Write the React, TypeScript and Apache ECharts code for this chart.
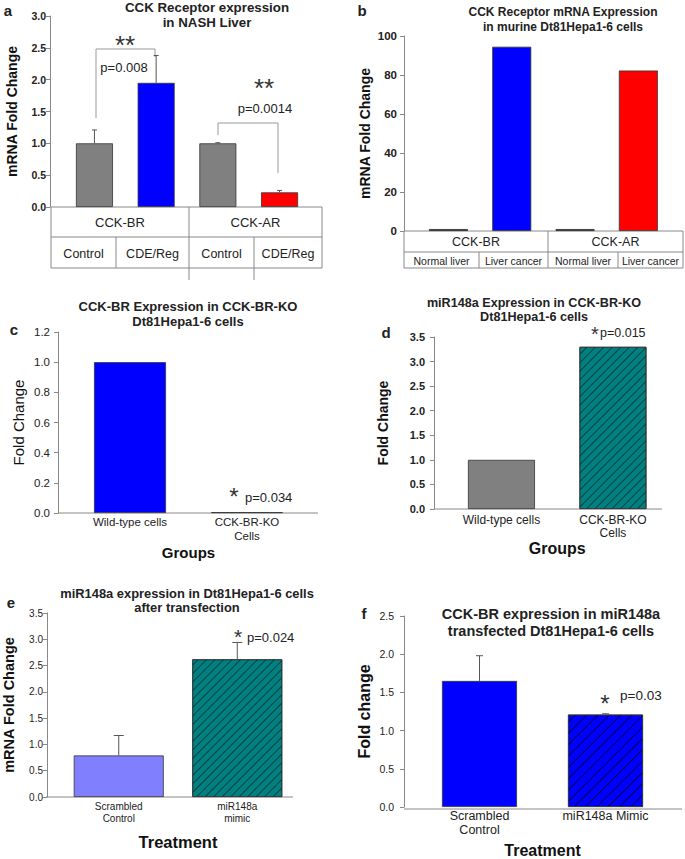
import React, { useEffect, useRef } from "react";
import * as echarts from "echarts";

const FONT = "'Liberation Sans', Arial, Helvetica, sans-serif";

// ---------- Panel a ----------
const aTitle = "CCK Receptor expression\nin NASH Liver";
const aGroupLabels = ["CCK-BR", "CCK-AR"];
const aSubLabels = ["Control", "CDE/Reg", "Control", "CDE/Reg"];
const aKeys = ["BR Control", "BR CDE/Reg", "AR Control", "AR CDE/Reg"];
const aValues = [1.0, 1.95, 1.0, 0.23];
const aErrTop = [1.21, 2.38, 1.01, 0.26];
const aColors = ["#808080", "#0000ff", "#808080", "#ff0000"];
const aPValues = ["p=0.008", "p=0.0014"];

// ---------- Panel b ----------
const bTitle = "CCK Receptor mRNA Expression\nin murine Dt81Hepa1-6 cells";
const bGroupLabels = ["CCK-BR", "CCK-AR"];
const bSubLabels = ["Normal liver", "Liver cancer", "Normal liver", "Liver cancer"];
const bKeys = ["BR Normal", "BR Cancer", "AR Normal", "AR Cancer"];
const bValues = [1, 94.5, 1, 82.3];
const bColors = ["#000000", "#0000ff", "#000000", "#ff0000"];

// ---------- Panel c ----------
const cTitle = "CCK-BR Expression in CCK-BR-KO\nDt81Hepa1-6 cells";
const cCategories = ["Wild-type cells", "CCK-BR-KO\nCells"];
const cValues = [1.0, 0.005];
const cColors = ["#0000ff", "#808080"];
const cPValue = "p=0.034";

// ---------- Panel d ----------
const dTitle = "miR148a Expression in CCK-BR-KO\nDt81Hepa1-6 cells";
const dCategories = ["Wild-type cells", "CCK-BR-KO\nCells"];
const dValues = [1.0, 3.3];
const dColors = ["#808080", "#008080"];
const dPValue = "p=0.015";

// ---------- Panel e ----------
const eTitle = "miR148a expression in Dt81Hepa1-6 cells\nafter transfection";
const eCategories = ["Scrambled\nControl", "miR148a\nmimic"];
const eValues = [0.79, 2.62];
const eErrTop = [1.17, 2.94];
const eColors = ["#8080ff", "#008080"];
const ePValue = "p=0.024";

// ---------- Panel f ----------
const fTitle = "CCK-BR expression in miR148a\ntransfected Dt81Hepa1-6 cells";
const fCategories = ["Scrambled\nControl", "miR148a Mimic"];
const fValues = [1.65, 1.21];
const fErrTop = [1.98, 1.22];
const fColors = ["#0000ff", "#0000ff"];
const fPValue = "p=0.03";

// ---------- layout (pixels) ----------
type Geo = { axisX: number; axisEnd: number; top: number; bottom: number; bandL: number; bandR: number };
const GEO: Geo[] = [
  { axisX: 50, axisEnd: 322, top: 16, bottom: 207, bandL: 63.6, bandR: 310.4 },
  { axisX: 404, axisEnd: 683, top: 36, bottom: 231, bandL: 416.8, bandR: 670 },
  { axisX: 58, axisEnd: 318, top: 332, bottom: 513, bandL: 71.5, bandR: 305.5 },
  { axisX: 434, axisEnd: 662, top: 337, bottom: 509, bandL: 445.7, bandR: 668.7 },
  { axisX: 46, axisEnd: 293, top: 613, bottom: 797, bandL: 58.5, bandR: 296.5 },
  { axisX: 404, axisEnd: 682, top: 616, bottom: 809, bandL: 416.5, bandR: 668.5 },
];

const hatch = (color: string, gap: number) => ({
  symbol: "rect",
  symbolSize: 1,
  dashArrayX: [1, 0],
  dashArrayY: [1, gap],
  rotation: -Math.PI / 4,
  color,
});

function yAxisCfg(i: number, max: number, interval: number, decimals: number, o: any) {
  const g = GEO[i];
  return {
    type: "value",
    gridIndex: i,
    min: 0,
    max,
    interval,
    offset: g.bandL - g.axisX,
    name: o.name,
    nameLocation: "middle",
    nameRotate: 90,
    nameGap: o.nameGap,
    nameTextStyle: { fontFamily: FONT, fontSize: o.nameSize, fontWeight: o.nameBold ? "bold" : "normal", color: "#111" },
    axisLine: { show: true, lineStyle: { color: "#888", width: 1 } },
    axisTick: { show: true, length: 4, lineStyle: { color: "#888" } },
    splitLine: { show: false },
    axisLabel: {
      formatter: (v: number) => v.toFixed(decimals),
      fontFamily: FONT,
      fontSize: o.labelSize,
      fontWeight: o.labelBold ? "bold" : "normal",
      color: "#222",
      margin: o.margin,
    },
  };
}

function xAxisCfg(i: number, data: string[], o: any) {
  return {
    type: "category",
    gridIndex: i,
    data,
    axisLine: { show: false },
    axisTick: { show: false },
    axisLabel: o
      ? { show: true, interval: 0, fontFamily: FONT, fontSize: o.labelSize, lineHeight: o.lineHeight, color: "#222", margin: o.margin }
      : { show: false },
    name: o ? o.name : "",
    nameLocation: "middle",
    nameGap: o ? o.nameGap : 0,
    nameTextStyle: { fontFamily: FONT, fontSize: o ? o.nameSize : 12, fontWeight: "bold", color: "#111" },
  };
}

function barSeries(i: number, values: number[], colors: string[], width: number, decals?: (any | null)[]) {
  return {
    type: "bar",
    xAxisIndex: i,
    yAxisIndex: i,
    barWidth: width,
    data: values.map((v, k) => ({
      value: v,
      itemStyle: {
        color: colors[k],
        borderColor: "#333",
        borderWidth: 0.8,
        decal: decals && decals[k] ? decals[k] : undefined,
      },
    })),
  };
}

function errSeries(i: number, values: number[], tops: number[], cap: number) {
  return {
    type: "custom",
    xAxisIndex: i,
    yAxisIndex: i,
    z: 5,
    data: values.map((v, k) => [k, v, tops[k]]),
    renderItem: (_p: any, api: any) => {
      const a = api.coord([api.value(0), api.value(1)]);
      const b = api.coord([api.value(0), api.value(2)]);
      const st = { stroke: "#555", lineWidth: 1 };
      return {
        type: "group",
        children: [
          { type: "line", shape: { x1: a[0], y1: a[1], x2: b[0], y2: b[1] }, style: st },
          { type: "line", shape: { x1: b[0] - cap / 2, y1: b[1], x2: b[0] + cap / 2, y2: b[1] }, style: st },
        ],
      };
    },
  };
}

const line = (x1: number, y1: number, x2: number, y2: number, color = "#888") => ({
  type: "line",
  shape: { x1, y1, x2, y2 },
  style: { stroke: color, lineWidth: 1 },
  silent: true,
});

const txt = (x: number, y: number, text: string, size: number, extra: any = {}) => ({
  type: "text",
  x,
  y,
  silent: true,
  style: {
    text,
    fontFamily: FONT,
    fontSize: size,
    fill: "#222",
    align: "center",
    verticalAlign: "middle",
    ...extra,
  },
});

function table(x0: number, x1: number, mid: number, subs: number[], y0: number, y1: number, y2: number,
  groups: string[], subLabels: string[], gSize: number, sSize: number, ext: number) {
  const els: any[] = [
    line(x0, y0, x1, y0),
    line(x0, y1, x1, y1),
    line(x0, y2, x1, y2),
    line(x0, y0, x0, y2),
    line(x1, y0, x1, y2),
    line(mid, y0, mid, y2 + ext),
    line(subs[0], y1, subs[0], y2),
    line(subs[1], y1, subs[1], y2 + ext),
  ];
  const gEdges = [x0, mid, x1];
  groups.forEach((g, k) => els.push(txt((gEdges[k] + gEdges[k + 1]) / 2, (y0 + y1) / 2, g, gSize)));
  const sEdges = [x0, subs[0], mid, subs[1], x1];
  subLabels.forEach((s, k) => els.push(txt((sEdges[k] + sEdges[k + 1]) / 2, (y1 + y2) / 2 + 1, s, sSize)));
  return els;
}

const star = (x: number, y: number, text: string, size: number) =>
  txt(x, y, text, size, { fill: "#333", lineHeight: Math.round(size * 0.45) });

function buildOption() {
  const grids = GEO.map((g) => ({ left: g.bandL, top: g.top, width: g.bandR - g.bandL, height: g.bottom - g.top, containLabel: false }));

  const xAxes = [
    xAxisCfg(0, aKeys, null),
    xAxisCfg(1, bKeys, null),
    xAxisCfg(2, cCategories, { labelSize: 11.5, lineHeight: 14, margin: 2, name: "Groups", nameGap: 32, nameSize: 15 }),
    xAxisCfg(3, dCategories, { labelSize: 12, lineHeight: 13.5, margin: 4, name: "Groups", nameGap: 31, nameSize: 16 }),
    xAxisCfg(4, eCategories, { labelSize: 10, lineHeight: 11.5, margin: 4, name: "Treatment", nameGap: 36, nameSize: 16.5 }),
    xAxisCfg(5, fCategories, { labelSize: 12.5, lineHeight: 14, margin: 2, name: "Treatment", nameGap: 35, nameSize: 16 }),
  ];

  const yAxes = [
    yAxisCfg(0, 3, 0.5, 1, { name: "mRNA Fold Change", nameGap: 31, nameSize: 14, nameBold: true, labelSize: 10.5, labelBold: true, margin: 4 }),
    yAxisCfg(1, 100, 20, 0, { name: "mRNA Fold Change", nameGap: 32, nameSize: 14, nameBold: true, labelSize: 11.5, labelBold: true, margin: 7 }),
    yAxisCfg(2, 1.2, 0.2, 1, { name: "Fold Change", nameGap: 32, nameSize: 15, nameBold: false, labelSize: 11.5, labelBold: false, margin: 8 }),
    yAxisCfg(3, 3.5, 0.5, 1, { name: "Fold Change", nameGap: 44, nameSize: 14, nameBold: true, labelSize: 11, labelBold: true, margin: 9 }),
    yAxisCfg(4, 3.5, 0.5, 1, { name: "mRNA Fold Change", nameGap: 31, nameSize: 14.5, nameBold: true, labelSize: 10, labelBold: false, margin: 4 }),
    yAxisCfg(5, 2.5, 0.5, 1, { name: "Fold change", nameGap: 32, nameSize: 16, nameBold: true, labelSize: 10.5, labelBold: false, margin: 10 }),
  ];

  const series = [
    barSeries(0, aValues, aColors, 37),
    errSeries(0, aValues, aErrTop, 5),
    barSeries(1, bValues, bColors, 39),
    barSeries(2, cValues, cColors, 72),
    barSeries(3, dValues, dColors, 67, [null, hatch("rgba(0,50,50,0.8)", 5)]),
    barSeries(4, eValues, eColors, 90, [null, hatch("rgba(0,50,50,0.8)", 5)]),
    errSeries(4, eValues, eErrTop, 10),
    barSeries(5, fValues, fColors, 75, [null, hatch("rgba(0,0,50,0.85)", 6.5)]),
    errSeries(5, fValues, fErrTop, 7),
  ];

  const bold = { fontWeight: "bold" };
  const graphic: any[] = [
    // panel letters
    txt(8, 10, "a", 15, bold),
    txt(362, 10, "b", 15, bold),
    txt(14, 329, "c", 15, bold),
    txt(386, 332, "d", 15, bold),
    txt(11, 602, "e", 15, bold),
    txt(364, 613, "f", 15, bold),
    // titles
    txt(207, 0, aTitle, 13.3, { ...bold, verticalAlign: "top", lineHeight: 15 }),
    txt(563, 5, bTitle, 12, { ...bold, verticalAlign: "top", lineHeight: 14.5 }),
    txt(188, 299, cTitle, 13, { ...bold, verticalAlign: "top", lineHeight: 15 }),
    txt(534, 296, dTitle, 12.6, { ...bold, verticalAlign: "top", lineHeight: 14 }),
    txt(187, 587, eTitle, 12.9, { ...bold, verticalAlign: "top", lineHeight: 13.5 }),
    txt(551, 606, fTitle, 14.5, { ...bold, verticalAlign: "top", lineHeight: 16.5 }),
    // tables
    ...table(51, 322, 189, [116, 254], 207, 237, 268, aGroupLabels, aSubLabels, 13, 12.5, 12),
    ...table(404, 683, 548, [479, 618], 231, 252, 268, bGroupLabels, bSubLabels, 12.5, 10.5, 0),
    // x-axis lines c-f
    line(GEO[2].axisX, GEO[2].bottom, GEO[2].axisEnd, GEO[2].bottom),
    line(GEO[3].axisX, GEO[3].bottom, GEO[3].axisEnd, GEO[3].bottom),
    line(GEO[4].axisX, GEO[4].bottom, GEO[4].axisEnd, GEO[4].bottom),
    line(GEO[5].axisX, GEO[5].bottom, GEO[5].axisEnd, GEO[5].bottom),
    // panel a brackets
    { type: "polyline", silent: true, shape: { points: [[96, 118], [96, 49], [155, 49], [155, 57]] }, style: { stroke: "#999", lineWidth: 1, fill: null } },
    { type: "polyline", silent: true, shape: { points: [[218, 135], [218, 123], [278, 123], [278, 173]] }, style: { stroke: "#999", lineWidth: 1, fill: null } },
    star(125, 45, "**", 26),
    txt(124, 67, aPValues[0], 13),
    star(264, 88, "**", 26),
    txt(265, 108, aPValues[1], 13),
    // panel c
    star(234, 496, "*", 24),
    txt(245, 497, cPValue, 13, { align: "left" }),
    // panel d
    star(595, 334, "*", 20),
    txt(600, 333, dPValue, 12.5, { align: "left" }),
    // panel e
    star(238, 636, "*", 21),
    txt(247, 637.5, ePValue, 13, { align: "left" }),
    // panel f
    star(605, 703, "*", 24),
    txt(620, 695, fPValue, 13.5, { align: "left" }),
  ];

  return {
    animation: false,
    backgroundColor: "#ffffff",
    textStyle: { fontFamily: FONT },
    grid: grids,
    xAxis: xAxes,
    yAxis: yAxes,
    series,
    graphic,
  };
}

export default function App() {
  const ref = useRef<HTMLDivElement>(null);
  useEffect(() => {
    document.body.style.margin = "0";
    const chart = echarts.init(ref.current!, null, { renderer: "svg" });
    chart.setOption(buildOption() as any);
    return () => chart.dispose();
  }, []);
  return (
    <div
      ref={ref}
      style={{ position: "absolute", left: 0, top: 0, width: 685, height: 859, background: "#fff" }}
    />
  );
}
